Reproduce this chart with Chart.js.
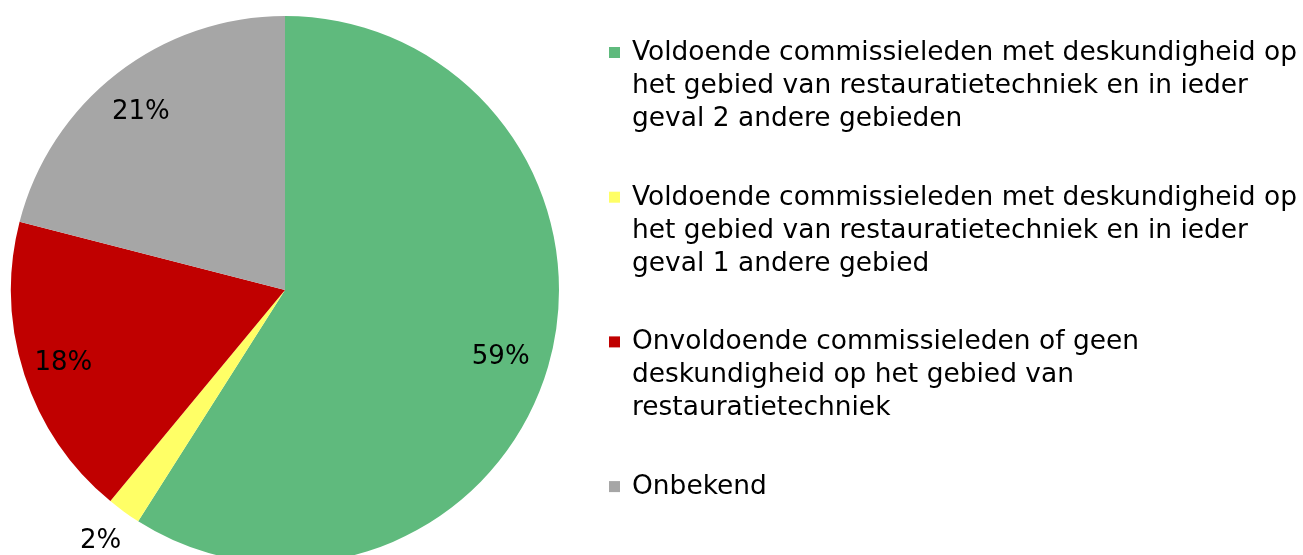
<!DOCTYPE html>
<html>
<head>
<meta charset="utf-8">
<script src="https://cdn.jsdelivr.net/npm/chart.js@4"></script>
<style>
  html, body { margin: 0; padding: 0; background: #fff; overflow: hidden; }
  canvas { display: block; }
</style>
</head>
<body>
<canvas id="pie" width="1303" height="600"></canvas>
<script>
// --- Datos ---
const categories = [
    ['Voldoende commissieleden met deskundigheid op', 'het gebied van restauratietechniek en in ieder', 'geval 2 andere gebieden'],
    ['Voldoende commissieleden met deskundigheid op', 'het gebied van restauratietechniek en in ieder', 'geval 1 andere gebied'],
    ['Onvoldoende commissieleden of geen', 'deskundigheid op het gebied van', 'restauratietechniek'],
    ['Onbekend']
];
const shares = [59, 2, 18, 21];
const sliceColors = ['#5FBA7D', '#FFFF66', '#C00000', '#A6A6A6'];

const FONT = '"DejaVu Sans", Verdana, sans-serif';

// --- Etiquetas de porcentaje sobre cada sector ---
const percentLabels = {
    id: 'percentLabels',
    afterDatasetsDraw(chart) {
        const ctx = chart.ctx;
        const meta = chart.getDatasetMeta(0);
        ctx.save();
        ctx.font = '26px ' + FONT;
        ctx.fillStyle = '#000';
        ctx.textAlign = 'center';
        ctx.textBaseline = 'middle';
        meta.data.forEach((arc, i) => {
            const p = arc.getProps(['x', 'y', 'startAngle', 'endAngle', 'outerRadius']);
            const mid = (p.startAngle + p.endAngle) / 2;
            const f = shares[i] < 5 ? 1.12 : 0.835;
            const x = p.x + Math.cos(mid) * p.outerRadius * f;
            const y = p.y + Math.sin(mid) * p.outerRadius * f;
            ctx.fillText(shares[i] + '%', x - 4, y + 3);
        });
        ctx.restore();
    }
};

// --- Leyenda a la derecha ---
const sideLegend = {
    id: 'sideLegend',
    afterDraw(chart) {
        const ctx = chart.ctx;
        ctx.save();
        ctx.font = '27px ' + FONT;
        ctx.fillStyle = '#000';
        ctx.textBaseline = 'middle';
        // ajustar ancho horizontal al de la referencia
        const targetW = 1297 - 632;
        const sx = targetW / ctx.measureText(categories[0][0]).width;
        let y = 52;
        categories.forEach((lines, i) => {
            ctx.fillStyle = sliceColors[i];
            ctx.fillRect(609, y - 5, 11, 11);
            ctx.fillStyle = '#000';
            lines.forEach((line, j) => {
                ctx.save();
                ctx.translate(632, y + 1 + j * 33);
                ctx.scale(sx, 1);
                ctx.fillText(line, 0, 0);
                ctx.restore();
            });
            y += 144.7;
        });
        ctx.restore();
    }
};

new Chart(document.getElementById('pie').getContext('2d'), {
    type: 'pie',
    data: {
        labels: categories.map(c => c.join(' ')),
        datasets: [{
            data: shares,
            backgroundColor: sliceColors,
            borderWidth: 0
        }]
    },
    options: {
        responsive: false,
        animation: false,
        layout: { padding: { left: 11, top: 16, right: 744, bottom: 36 } },
        plugins: {
            legend: { display: false },
            tooltip: { enabled: false }
        }
    },
    plugins: [percentLabels, sideLegend]
});
</script>
</body>
</html>
